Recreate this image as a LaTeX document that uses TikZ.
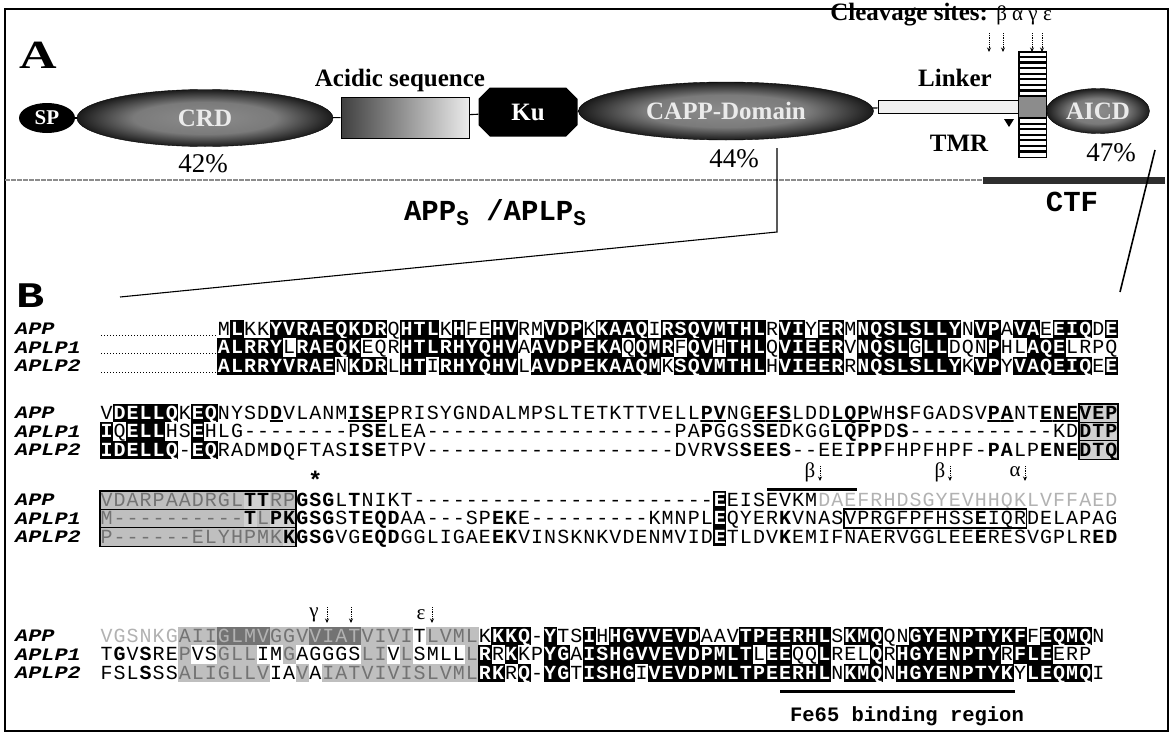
\documentclass[tikz,border=0pt]{standalone}
\usepackage{fontspec}
\setmainfont{Liberation Serif}
\newfontfamily\seqfont{Liberation Mono}
\usetikzlibrary{shapes.misc,shapes.geometric,arrows.meta}
\pgfdeclareradialshading{speck}{\pgfpoint{0bp}{0bp}}{color(0bp)=(black!45); color(14bp)=(black!52); color(28bp)=(black); color(50bp)=(black)}
\newcount\sqcol
\def\sqxo{100}
\def\sqpitch{13.05}
\def\sqrowh{18.5}
\makeatletter
\def\sq@blank{!}
\def\sq@dash{-}
\def\sq@end{}
\def\sqpop#1#2{\expandafter\sq@pop#1\sq@end#1#2}
\def\sq@pop#1#2\sq@end#3#4{\def#4{#1}\def#3{#2}}
\def\sqcell#1#2#3#4#5{%
  \ifx#1\sq@blank\else
    \expandafter\ifx#2a%
      \def\sq@st{sqn}%
      \ifx#1\sq@dash\else
        \ifx#1#3\def\sq@st{sqk}\fi
        \ifx#1#4\def\sq@st{sqk}\fi
      \fi
    \else
      \edef\sq@st{sq#2}%
    \fi
    \edef\sq@args{\noexpand\node[\sq@st] (\sq@name-#5-\the\sqcol) at ({\sqxo+(\the\sqcol+0.5)*\sqpitch},\csname sq@y#5\endcsname)}%
    \sq@args {#1};%
  \fi}
\def\sqblock#1#2#3#4#5#6#7#8#9{%
  \def\sq@name{#1}\sqcol=#2\relax
  \def\sq@yA{#3}%
  \pgfmathsetmacro\sq@yB{#3+\sqrowh}%
  \pgfmathsetmacro\sq@yC{#3+2*\sqrowh}%
  \def\sA{#4}\def\sB{#5}\def\sC{#6}%
  \def\mA{#7}\def\mB{#8}\def\mC{#9}%
  \def\kA{n}\def\kB{n}\def\kC{n}%
  \sq@loop}
\def\sq@loop{%
  \ifx\sA\empty\else
    \sqpop\sA\cA\sqpop\sB\cB\sqpop\sC\cC
    \ifx\mA\empty\else\sqpop\mA\kA\fi
    \ifx\mB\empty\else\sqpop\mB\kB\fi
    \ifx\mC\empty\else\sqpop\mC\kC\fi
    \sqcell\cA\kA\cB\cC A%
    \sqcell\cB\kB\cA\cC B%
    \sqcell\cC\kC\cA\cB C%
    \advance\sqcol by 1\relax
    \expandafter\sq@loop
  \fi}
\makeatother
\tikzset{
  sqbase/.style={inner sep=0pt, outer sep=0pt, minimum width=13.15pt, minimum height=18.6pt,
    text height=12pt, text depth=0pt, font=\seqfont\fontsize{20}{20}\selectfont},
  sqn/.style={sqbase},
  sqk/.style={sqbase, fill=black, text=white, font=\seqfont\bfseries\fontsize{20}{20}\selectfont},
  sqb/.style={sqbase, font=\seqfont\bfseries\fontsize{20}{20}\selectfont},
  squ/.style={sqb, path picture={\draw[line width=1.4pt] ([yshift=-8pt]path picture bounding box.west) -- ([yshift=-8pt]path picture bounding box.east);}},
  sqf/.style={sqbase, text=black!30},
  sqg/.style={sqbase, fill=black!25, text=black!55},
  sqd/.style={sqbase, fill=black!55, text=black!30},
  sqh/.style={sqbase, fill=black!18, font=\seqfont\bfseries\fontsize{20}{20}\selectfont},
  dom/.style={ellipse, draw=black, shading=speck, text=white!92!black, inner sep=0pt,
    font=\bfseries\fontsize{25}{25}\selectfont},
  blk/.style={fill=black, text=white, inner sep=0pt, font=\bfseries\fontsize{25}{25}\selectfont},
  lab/.style={inner sep=0pt, font=\bfseries\fontsize{25}{25}\selectfont},
  pct/.style={inner sep=0pt, font=\fontsize{27}{27}\selectfont},
  ttlab/.style={inner sep=0pt, font=\seqfont\bfseries\fontsize{29}{29}\selectfont},
  rowlab/.style={anchor=west, inner sep=0pt, text height=11pt, text depth=0pt,
    font=\seqfont\bfseries\itshape\fontsize{17.5}{17.5}\selectfont},
  greek/.style={inner sep=0pt, font=\fontsize{21}{21}\selectfont},
  cut/.style={densely dotted, line width=0.8pt, -{Stealth[length=4.5pt,width=4pt]}},
  leader/.style={line width=1pt, dash pattern=on 1pt off 2pt},
  boxline/.style={line width=1.6pt},
  link/.style={line width=1.1pt},
}
\newcommand\rlab[1]{\scalebox{1.25}[1]{#1}}
\begin{document}
\begin{tikzpicture}[x=1pt,y=-1pt]
\useasboundingbox (0,0) rectangle (1172,736);
\draw[line width=1.2pt] (5,9) rectangle (1168,731);

% ---------------- Panel A ----------------
\node[inner sep=0pt, font=\bfseries\fontsize{40}{40}\selectfont] (pA) at (38,55) {\scalebox{1.3}[1]{A}};
\node[inner sep=0pt, anchor=east] (cleav) at (1052,15) {\bfseries\fontsize{25}{25}\selectfont Cleavage sites: {\mdseries\fontsize{21}{21}\selectfont β α γ ε}};
\node[blk, ellipse, minimum width=56pt, minimum height=30pt, font=\bfseries\fontsize{21}{21}\selectfont] (sp) at (47,118) {SP};
\node[dom, minimum width=256pt, minimum height=57pt] (crd) at (205,118) {CRD};
\node[draw, line width=1pt, minimum width=128pt, minimum height=41pt, left color=black!75, right color=black!8] (acid) at (405,117.5) {};
\node[lab] (acidlab) at (400,80) {Acidic sequence};
\node[blk, chamfered rectangle, chamfered rectangle xsep=14pt, minimum width=99pt, minimum height=49pt] (ku) at (528,112) {Ku};
\node[dom, minimum width=295pt, minimum height=58pt] (capp) at (726,111) {CAPP-Domain};
\node[draw, line width=1pt, fill=black!6, minimum width=142pt, minimum height=13pt, inner sep=0pt] (linker) at (949,106.5) {};
\node[draw, line width=1pt, fill=white, minimum width=27pt, minimum height=105pt, inner sep=0pt] (tmr) at (1032.5,104.5) {};
\foreach \k in {1,...,18}{
  \draw[line width=2.3pt] ([yshift=-\k*5.55pt]tmr.north west) -- ([yshift=-\k*5.55pt]tmr.north east);
}
\fill[black!45] ([yshift=-45pt]tmr.north west) rectangle ([yshift=-65pt]tmr.north east);
\draw[line width=1pt] (tmr.north west) rectangle (tmr.south east);
\node[dom, minimum width=103pt, minimum height=45pt] (aicd) at (1098,111) {AICD};
\draw[link] (sp) -- (crd);
\draw[link] (crd) -- (acid);
\draw[link] (acid) -- (ku);
\draw[link] (ku) -- (capp);
\draw[link] (capp) -- (linker);
\draw[link] (tmr) -- (aicd);
\node[lab] (linklab) at (955,78) {Linker};
\node[lab] (tmrlab) at (959,143) {TMR};
\fill (1004,119) -- (1014,119) -- (1009,127) -- cycle;
\foreach \x/\n in {989/b,1003/a,1032/g,1042/e}{
  \coordinate (ct\n) at (\x,33);
  \coordinate (cb\n) at (\x,52);
  \draw[cut] (ct\n) -- (cb\n);
}
\node[pct] (p42) at (203,164) {42\%};
\node[pct] (p44) at (734,159) {44\%};
\node[pct] (p47) at (1111,153) {47\%};
\coordinate (gl1) at (5,180);
\coordinate (gl2) at (982,180);
\draw[black!45, line width=2.4pt, dash pattern=on 5pt off 1pt] (gl1) -- (gl2);
\fill[black!82] (983,177) rectangle (1165,184);
\node[ttlab] (ctf) at (1072,202) {CTF};
\node[ttlab] (apps) at (495,213) {APP\raisebox{-5pt}{\fontsize{21}{21}\selectfont S} /APLP\raisebox{-5pt}{\fontsize{21}{21}\selectfont S}};
\coordinate (v1) at (777,148);
\coordinate (v2) at (777,232);
\coordinate (v3) at (120,297);
\draw[link] (v1) -- (v2) -- (v3);
\coordinate (r1) at (1155,150);
\coordinate (r2) at (1120,292);
\draw[line width=1.6pt] (r1) -- (r2);

% ---------------- Panel B ----------------
\node[inner sep=0pt, font=\seqfont\bfseries\fontsize{36}{36}\selectfont] (pB) at (31,296) {\scalebox{1.3}[1]{B}};
\foreach \y/\n in {329/1,413/2,500/3,636/4}{
  \node[rowlab] (la\n) at (15,\y) {\rlab{APP}};
  \node[rowlab] (lb\n) at (15,\y+18.5) {\rlab{APLP1}};
  \node[rowlab] (lc\n) at (15,\y+37) {\rlab{APLP2}};
}
% block 1
\sqblock{bA}{9}{329}
 {MLKKYVRAEQKDRQHTLKHFEHVRMVDPKKAAQIRSQVMTHLRVIYERMNQSLSLLYNVPAVAEEIQDE}
 {ALRRYLRAEQKEQRHTLRHYQHVAAVDPEKAQQMRFQVHTHLQVIEERVNQSLGLLDQNPHLAQELRPQ}
 {ALRRYVRAENKDRLHTIRHYQHVLAVDPEKAAQMKSQVMTHLHVIEERRNQSLSLLYKVPYVAQEIQEE}
 {a}{a}{a}
\foreach \r/\yy in {A/329,B/347.5,C/366}{
  \coordinate (ld\r) at (101,\yy+6);
  \draw[leader] (ld\r) -- (bA-\r-9.south west |- ld\r);
}
% block 2
\sqblock{bB}{0}{413}
 {VDELLQKEQNYSDDVLANMISEPRISYGNDALMPSLTETKTTVELLPVNGEFSLDDLQPWHSFGADSVPANTENEVEP}
 {IQELLHSEHLG--------PSELEA-------------------PAPGGSSEDKGGLQPPDS-----------KDDTP}
 {IDELLQ-EQRADMDQFTASISETPV-------------------DVRVSSEES--EEIPPFHPFHPF-PALPENEDTQ}
 {aaaaaaaaaaaaaunnnnnuuunnnnnnnnnnnnnnnnnnnnnnnnuunnuuunnnuuunnbnnnnnnuunnuuuhhh}
 {aaaaaaaaaaaaannnnnnnbbnnnnnnnnnnnnnnnnnnnnnnnnbnnnbbnnnnbbbbnbnnnnnnnnnnnnnhhh}
 {aaaaaaaaaaaaabnnnnnbbbnnnnnnnnnnnnnnnnnnnnnnnnnbnbbbbnnnnnbbnnnnnnnnbbnnbbbhhh}
\draw[boxline] (bB-A-75.north west) rectangle (bB-C-77.south east);
\draw[line width=0.8pt] (bB-B-75.north west) -- (bB-B-77.north east);
\draw[line width=0.8pt] (bB-C-75.north west) -- (bB-C-77.north east);
% block 3
\sqblock{bC}{0}{500}
 {VDARPAADRGLTTRPGSGLTNIKT-----------------------EEISEVKMDAEFRHDSGYEVHHQKLVFFAED}
 {M----------TLPKGSGSTEQDAA---SPEKE---------KMNPLEQYERKVNASVPRGFPFHSSEIQRDELAPAG}
 {P------ELYHPMKKGSGVGEQDGGLIGAEEKVINSKNKVDENMVIDETLDVKEMIFNAERVGGLEEERESVGPLRED}
 {ggggggggggghhggbbbnbnnnnnnnnnnnnnnnnnnnnnnnnnnnknnnnnnnf}
 {ggggggggggghghhbbbnbbbbnnnnnnnbbnnnnnnnnnnnnnnnknnnnbnnnnnnnnnnnnnnbnnnnnnnnnn}
 {gggggggggggggghbbbnnbbbnnnnnnnbbnnnnnnnnnnnnnnnknnnnbnnnnnnnnnnnnnnbnnnnnnnnbb}
\draw[boxline] (bC-A-0.north west) rectangle (bC-C-14.south east);
\draw[line width=0.8pt] (bC-B-0.north west) -- (bC-B-14.north east);
\draw[line width=0.8pt] (bC-C-0.north west) -- (bC-C-14.north east);
\draw[boxline] (bC-B-57.north west) rectangle (bC-B-70.south east);
\node[inner sep=0pt, font=\seqfont\bfseries\fontsize{24}{24}\selectfont] (star) at (bC-A-16 |- 0,480) {*};
\coordinate (bar1) at (767,489);
\coordinate (bar2) at (857,489);
\draw[line width=3pt] (bar1) -- (bar2);
\foreach \x/\g/\n in {810/β/b1,940/β/b2,1015/α/a1}{
  \node[greek] (g\n) at (\x,472) {\g};
  \coordinate (gt\n) at (\x+10,466);
  \coordinate (gb\n) at (\x+10,481);
  \draw[cut] (gt\n) -- (gb\n);
}
% block 4
\sqblock{bD}{0}{636}
 {VGSNKGAIIGLMVGGVVIATVIVITLVMLKKKQ-YTSIHHGVVEVDAAVTPEERHLSKMQQNGYENPTYKFFEQMQN}
 {TGVSREPVSGLLIMGAGGGSLIVLSMLLLRRKKPYGAISHGVVEVDPMLTLEEQQLRELQRHGYENPTYRFLEERP!}
 {FSLSSSALIGLLVIAVAIATVIVISLVMLRKRQ-YGTISHGIVEVDPMLTPEERHLNKMQNHGYENPTYKYLEQMQI}
 {ffffffgggddddgggddddggggnggggaa}
 {nbnbnngnngggnngnnnnnggngnnnngaa}
 {nnnbnngggggggnngnggggggggggggaa}
\node[greek] (gam) at (314,615) {γ};
\node[greek] (eps) at (421,615) {ε};
\foreach \x/\n in {327/c1,351/c2,432/c3}{
  \coordinate (at\n) at (\x,607);
  \coordinate (ab\n) at (\x,623);
  \draw[cut] (at\n) -- (ab\n);
}
\coordinate (fe1) at (780,691);
\coordinate (fe2) at (1015,691);
\draw[line width=3pt] (fe1) -- (fe2);
\node[inner sep=0pt, font=\seqfont\bfseries\fontsize{20.5}{20.5}\selectfont] (fe65) at (907,716) {Fe65 binding region};
\end{tikzpicture}
\end{document}
